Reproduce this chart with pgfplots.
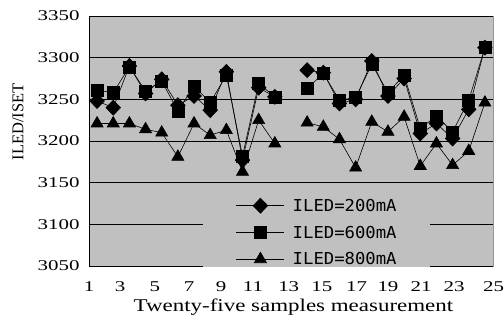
\documentclass[border=0pt]{standalone}
\usepackage{fontspec}
\setmainfont{Liberation Serif}
\newfontfamily\tickfont[FakeStretch=1.4]{Liberation Serif}
\newfontfamily\xlabfont[FakeStretch=1.28]{Liberation Serif}
\newfontfamily\legfont[FakeStretch=1.05]{DejaVu Sans Mono}
\usepackage{pgfplots}
\pgfplotsset{compat=1.18}
\usepackage{pgfplotstable}
\definecolor{bggray}{RGB}{192,192,192}
\definecolor{framegray}{RGB}{150,150,150}

\pgfplotstableread{
x a b c
1 3248 3261 3221
2 3240 3258 3221
3 3290 3289 3221
4 3257 3260 3214
5 3274 3272 3210
6 3243 3236 3181
7 3254 3266 3221
8 3237 3246 3207
9 3283 3279 3213
10 3177 3182 3163
11 3264 3269 3225
12 3253 3253 3197
13 nan nan nan
14 3285 3263 3222
15 3282 3281 3217
16 3245 3249 3202
17 3250 3252 3168
18 3296 3292 3223
19 3254 3258 3211
20 3275 3279 3229
21 3209 3215 3170
22 3221 3230 3197
23 3203 3211 3171
24 3238 3249 3188
25 3312 3312 3246
}\data

\begin{document}
\begin{tikzpicture}
\begin{axis}[
  at={(0,0)}, anchor=south west,
  scale only axis, width=404bp, height=250bp,
  xmin=0.5, xmax=25.5, ymin=3050, ymax=3350,
  ytick={3050,3100,...,3350},
  xtick=\empty,
  minor xtick={1.5,2.5,...,24.5},
  tick align=inside,
  minor tick length=4bp,
  major tick length=0pt,
  minor tick style={black, line width=0.8bp},
  ymajorgrids, grid style={black, line width=0.8bp},
  axis background/.style={fill=bggray, draw=framegray, line width=0.8bp},
  axis x line*=bottom, axis y line*=left,
  axis line style={black, line width=0.9bp},
  /pgf/number format/assume math mode=true,
  /pgf/number format/1000 sep={},
  yticklabel style={font=\tickfont\fontsize{15}{15}\selectfont, xshift=-6bp},
  ylabel={ILED/ISET},
  ylabel style={at={(axis description cs:-0.176,0.576)}, anchor=center, font=\fontsize{16.5}{16.5}\selectfont},
  xlabel={Twenty-five samples measurement},
  xlabel style={at={(axis description cs:0.506,-0.163)}, anchor=center, font=\xlabfont\fontsize{18}{18}\selectfont},
  clip=false,
  unbounded coords=jump,
  legend cell align=left,
  legend image code/.code={\draw[mark repeat=2,mark phase=2] plot coordinates {(0bp,0bp) (24bp,0bp) (48bp,0bp)};},
  legend style={at={(rel axis cs:0.282,0.276)}, anchor=north west, fill=bggray, draw=none,
    font=\legfont\fontsize{16.5}{16.5}\selectfont, inner xsep=33bp, inner ysep=1bp,
    nodes={inner sep=0pt, text height=12bp, text depth=1bp}, row sep=13bp, column sep=8bp},
  every axis plot/.append style={black, line width=0.6bp},
]
\addlegendimage{black, line width=0.6bp, mark=diamond*, mark size=7.5bp, mark options={xscale=1.3, solid}}
\addlegendentry{ILED=200mA}
\addlegendimage{black, line width=0.6bp, mark=square*, mark size=6bp, mark options={solid}}
\addlegendentry{ILED=600mA}
\addlegendimage{black, line width=0.6bp, mark=triangle*, mark size=7bp, mark options={solid}}
\addlegendentry{ILED=800mA}
\addplot[forget plot, mark=square*, mark size=6bp, mark options={solid}] table[x=x, y=b] {\data};
\addplot[forget plot, mark=diamond*, mark size=7.5bp, mark options={xscale=1.3, solid}] table[x=x, y=a] {\data};
\addplot[forget plot, mark=triangle*, mark size=7bp, mark options={solid}] table[x=x, y=c] {\data};

\begin{scope}[every node/.style={font=\tickfont\fontsize{15}{15}\selectfont, anchor=center, yshift=-20.7bp}]
\node at (axis cs:0.51,3050) {1};
\node at (axis cs:2.43,3050) {3};
\node at (axis cs:4.58,3050) {5};
\node at (axis cs:6.69,3050) {7};
\node at (axis cs:8.67,3050) {9};
\node at (axis cs:10.65,3050) {11};
\node at (axis cs:12.86,3050) {13};
\node at (axis cs:14.91,3050) {15};
\node at (axis cs:17.06,3050) {17};
\node at (axis cs:19.0,3050) {19};
\node at (axis cs:21.05,3050) {21};
\node at (axis cs:23.09,3050) {23};
\node at (axis cs:25.54,3050) {25};
\end{scope}
\end{axis}
\pgfresetboundingbox
\path (-89bp,-63bp) rectangle (415bp,266bp);
\end{tikzpicture}
\end{document}
